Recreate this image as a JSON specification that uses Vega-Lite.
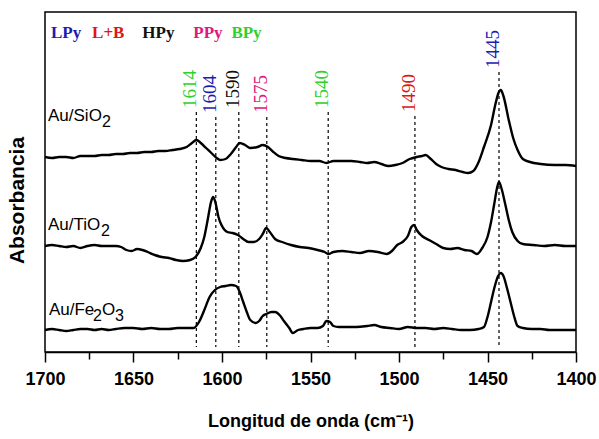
{
  "$schema": "https://vega.github.io/schema/vega-lite/v6.json",
  "width": 531,
  "height": 340,
  "autosize": {"type": "none"},
  "padding": {"left": 45, "top": 12, "right": 23, "bottom": 87},
  "background": "white",
  "config": {
    "view": {"stroke": "black", "strokeWidth": 1.5},
    "axis": {"grid": false}
  },
  "datasets": {
    "spectra": [
      {"sample": "Au/SiO2", "wn": 1700, "a": 195}, {"sample": "Au/SiO2", "wn": 1696, "a": 194}, {"sample": "Au/SiO2", "wn": 1692, "a": 195},
      {"sample": "Au/SiO2", "wn": 1688, "a": 195}, {"sample": "Au/SiO2", "wn": 1684, "a": 194}, {"sample": "Au/SiO2", "wn": 1680, "a": 196},
      {"sample": "Au/SiO2", "wn": 1676, "a": 196}, {"sample": "Au/SiO2", "wn": 1672, "a": 196}, {"sample": "Au/SiO2", "wn": 1668, "a": 197},
      {"sample": "Au/SiO2", "wn": 1664, "a": 197}, {"sample": "Au/SiO2", "wn": 1660, "a": 198}, {"sample": "Au/SiO2", "wn": 1656, "a": 198},
      {"sample": "Au/SiO2", "wn": 1652, "a": 199}, {"sample": "Au/SiO2", "wn": 1648, "a": 199}, {"sample": "Au/SiO2", "wn": 1644, "a": 200},
      {"sample": "Au/SiO2", "wn": 1640, "a": 200}, {"sample": "Au/SiO2", "wn": 1636, "a": 201}, {"sample": "Au/SiO2", "wn": 1632, "a": 201},
      {"sample": "Au/SiO2", "wn": 1628, "a": 202}, {"sample": "Au/SiO2", "wn": 1624, "a": 203}, {"sample": "Au/SiO2", "wn": 1620, "a": 205},
      {"sample": "Au/SiO2", "wn": 1617, "a": 209}, {"sample": "Au/SiO2", "wn": 1614.5, "a": 212}, {"sample": "Au/SiO2", "wn": 1612, "a": 209},
      {"sample": "Au/SiO2", "wn": 1609, "a": 204}, {"sample": "Au/SiO2", "wn": 1606, "a": 199}, {"sample": "Au/SiO2", "wn": 1603, "a": 194},
      {"sample": "Au/SiO2", "wn": 1601, "a": 192}, {"sample": "Au/SiO2", "wn": 1598, "a": 193}, {"sample": "Au/SiO2", "wn": 1595, "a": 198},
      {"sample": "Au/SiO2", "wn": 1592, "a": 205}, {"sample": "Au/SiO2", "wn": 1590, "a": 209}, {"sample": "Au/SiO2", "wn": 1587, "a": 207},
      {"sample": "Au/SiO2", "wn": 1584, "a": 204}, {"sample": "Au/SiO2", "wn": 1580, "a": 205}, {"sample": "Au/SiO2", "wn": 1577, "a": 207},
      {"sample": "Au/SiO2", "wn": 1574, "a": 205}, {"sample": "Au/SiO2", "wn": 1571, "a": 200}, {"sample": "Au/SiO2", "wn": 1568, "a": 196},
      {"sample": "Au/SiO2", "wn": 1564, "a": 194}, {"sample": "Au/SiO2", "wn": 1560, "a": 193}, {"sample": "Au/SiO2", "wn": 1555, "a": 192},
      {"sample": "Au/SiO2", "wn": 1550, "a": 191}, {"sample": "Au/SiO2", "wn": 1545, "a": 191}, {"sample": "Au/SiO2", "wn": 1541, "a": 189},
      {"sample": "Au/SiO2", "wn": 1537, "a": 191}, {"sample": "Au/SiO2", "wn": 1532, "a": 191}, {"sample": "Au/SiO2", "wn": 1527, "a": 191},
      {"sample": "Au/SiO2", "wn": 1522, "a": 190}, {"sample": "Au/SiO2", "wn": 1518, "a": 189}, {"sample": "Au/SiO2", "wn": 1514, "a": 190},
      {"sample": "Au/SiO2", "wn": 1510, "a": 188}, {"sample": "Au/SiO2", "wn": 1506, "a": 186}, {"sample": "Au/SiO2", "wn": 1502, "a": 187},
      {"sample": "Au/SiO2", "wn": 1498, "a": 189}, {"sample": "Au/SiO2", "wn": 1494, "a": 193}, {"sample": "Au/SiO2", "wn": 1490, "a": 195},
      {"sample": "Au/SiO2", "wn": 1487, "a": 196}, {"sample": "Au/SiO2", "wn": 1485, "a": 197}, {"sample": "Au/SiO2", "wn": 1482, "a": 193},
      {"sample": "Au/SiO2", "wn": 1479, "a": 188}, {"sample": "Au/SiO2", "wn": 1476, "a": 185}, {"sample": "Au/SiO2", "wn": 1472, "a": 183},
      {"sample": "Au/SiO2", "wn": 1468, "a": 182}, {"sample": "Au/SiO2", "wn": 1464, "a": 180}, {"sample": "Au/SiO2", "wn": 1461, "a": 179},
      {"sample": "Au/SiO2", "wn": 1458, "a": 181}, {"sample": "Au/SiO2", "wn": 1455, "a": 190}, {"sample": "Au/SiO2", "wn": 1452, "a": 205},
      {"sample": "Au/SiO2", "wn": 1448, "a": 227}, {"sample": "Au/SiO2", "wn": 1445.5, "a": 248}, {"sample": "Au/SiO2", "wn": 1443.8, "a": 259},
      {"sample": "Au/SiO2", "wn": 1442.5, "a": 262}, {"sample": "Au/SiO2", "wn": 1441, "a": 256}, {"sample": "Au/SiO2", "wn": 1438, "a": 232},
      {"sample": "Au/SiO2", "wn": 1435.5, "a": 214}, {"sample": "Au/SiO2", "wn": 1433, "a": 202}, {"sample": "Au/SiO2", "wn": 1430, "a": 193},
      {"sample": "Au/SiO2", "wn": 1426, "a": 190}, {"sample": "Au/SiO2", "wn": 1420, "a": 188}, {"sample": "Au/SiO2", "wn": 1412, "a": 187},
      {"sample": "Au/SiO2", "wn": 1406, "a": 187}, {"sample": "Au/SiO2", "wn": 1400, "a": 186},

      {"sample": "Au/TiO2", "wn": 1700, "a": 106}, {"sample": "Au/TiO2", "wn": 1696, "a": 107}, {"sample": "Au/TiO2", "wn": 1692, "a": 106},
      {"sample": "Au/TiO2", "wn": 1688, "a": 105}, {"sample": "Au/TiO2", "wn": 1684, "a": 106}, {"sample": "Au/TiO2", "wn": 1680, "a": 104},
      {"sample": "Au/TiO2", "wn": 1676, "a": 106}, {"sample": "Au/TiO2", "wn": 1672, "a": 107}, {"sample": "Au/TiO2", "wn": 1668, "a": 106},
      {"sample": "Au/TiO2", "wn": 1664, "a": 106}, {"sample": "Au/TiO2", "wn": 1660, "a": 106}, {"sample": "Au/TiO2", "wn": 1657, "a": 105},
      {"sample": "Au/TiO2", "wn": 1654, "a": 102}, {"sample": "Au/TiO2", "wn": 1651, "a": 101}, {"sample": "Au/TiO2", "wn": 1648, "a": 103},
      {"sample": "Au/TiO2", "wn": 1645, "a": 102}, {"sample": "Au/TiO2", "wn": 1642, "a": 100}, {"sample": "Au/TiO2", "wn": 1638, "a": 97},
      {"sample": "Au/TiO2", "wn": 1634, "a": 95}, {"sample": "Au/TiO2", "wn": 1630, "a": 94}, {"sample": "Au/TiO2", "wn": 1626, "a": 92},
      {"sample": "Au/TiO2", "wn": 1622, "a": 91}, {"sample": "Au/TiO2", "wn": 1618, "a": 92}, {"sample": "Au/TiO2", "wn": 1615, "a": 95},
      {"sample": "Au/TiO2", "wn": 1612, "a": 104}, {"sample": "Au/TiO2", "wn": 1610, "a": 115}, {"sample": "Au/TiO2", "wn": 1608, "a": 133},
      {"sample": "Au/TiO2", "wn": 1606.2, "a": 150}, {"sample": "Au/TiO2", "wn": 1605, "a": 155}, {"sample": "Au/TiO2", "wn": 1603.5, "a": 148},
      {"sample": "Au/TiO2", "wn": 1602, "a": 135}, {"sample": "Au/TiO2", "wn": 1600, "a": 126}, {"sample": "Au/TiO2", "wn": 1597, "a": 120},
      {"sample": "Au/TiO2", "wn": 1594, "a": 119}, {"sample": "Au/TiO2", "wn": 1591, "a": 117}, {"sample": "Au/TiO2", "wn": 1588, "a": 113},
      {"sample": "Au/TiO2", "wn": 1585, "a": 110}, {"sample": "Au/TiO2", "wn": 1582, "a": 110}, {"sample": "Au/TiO2", "wn": 1579, "a": 113},
      {"sample": "Au/TiO2", "wn": 1577, "a": 118}, {"sample": "Au/TiO2", "wn": 1575, "a": 124}, {"sample": "Au/TiO2", "wn": 1573, "a": 120},
      {"sample": "Au/TiO2", "wn": 1570, "a": 113}, {"sample": "Au/TiO2", "wn": 1566, "a": 110}, {"sample": "Au/TiO2", "wn": 1561, "a": 107},
      {"sample": "Au/TiO2", "wn": 1556, "a": 105}, {"sample": "Au/TiO2", "wn": 1551, "a": 104}, {"sample": "Au/TiO2", "wn": 1546, "a": 102},
      {"sample": "Au/TiO2", "wn": 1542, "a": 100}, {"sample": "Au/TiO2", "wn": 1540, "a": 98}, {"sample": "Au/TiO2", "wn": 1537, "a": 100},
      {"sample": "Au/TiO2", "wn": 1532, "a": 101}, {"sample": "Au/TiO2", "wn": 1527, "a": 100}, {"sample": "Au/TiO2", "wn": 1522, "a": 99},
      {"sample": "Au/TiO2", "wn": 1517, "a": 101}, {"sample": "Au/TiO2", "wn": 1512, "a": 100}, {"sample": "Au/TiO2", "wn": 1507, "a": 98},
      {"sample": "Au/TiO2", "wn": 1504, "a": 101}, {"sample": "Au/TiO2", "wn": 1501, "a": 107}, {"sample": "Au/TiO2", "wn": 1498, "a": 110},
      {"sample": "Au/TiO2", "wn": 1495, "a": 116}, {"sample": "Au/TiO2", "wn": 1493, "a": 125}, {"sample": "Au/TiO2", "wn": 1491.5, "a": 127},
      {"sample": "Au/TiO2", "wn": 1490, "a": 122}, {"sample": "Au/TiO2", "wn": 1487, "a": 116}, {"sample": "Au/TiO2", "wn": 1483, "a": 112},
      {"sample": "Au/TiO2", "wn": 1479, "a": 108}, {"sample": "Au/TiO2", "wn": 1475, "a": 104}, {"sample": "Au/TiO2", "wn": 1471, "a": 103},
      {"sample": "Au/TiO2", "wn": 1467, "a": 104}, {"sample": "Au/TiO2", "wn": 1463, "a": 102}, {"sample": "Au/TiO2", "wn": 1459, "a": 101},
      {"sample": "Au/TiO2", "wn": 1456, "a": 98}, {"sample": "Au/TiO2", "wn": 1453, "a": 104}, {"sample": "Au/TiO2", "wn": 1450, "a": 115},
      {"sample": "Au/TiO2", "wn": 1448, "a": 130}, {"sample": "Au/TiO2", "wn": 1446, "a": 150}, {"sample": "Au/TiO2", "wn": 1444.5, "a": 165},
      {"sample": "Au/TiO2", "wn": 1443.5, "a": 170}, {"sample": "Au/TiO2", "wn": 1442, "a": 163}, {"sample": "Au/TiO2", "wn": 1440, "a": 148},
      {"sample": "Au/TiO2", "wn": 1438, "a": 132}, {"sample": "Au/TiO2", "wn": 1436, "a": 120}, {"sample": "Au/TiO2", "wn": 1433, "a": 111},
      {"sample": "Au/TiO2", "wn": 1430, "a": 108}, {"sample": "Au/TiO2", "wn": 1424, "a": 107}, {"sample": "Au/TiO2", "wn": 1418, "a": 106},
      {"sample": "Au/TiO2", "wn": 1412, "a": 107}, {"sample": "Au/TiO2", "wn": 1406, "a": 106}, {"sample": "Au/TiO2", "wn": 1400, "a": 106},

      {"sample": "Au/Fe2O3", "wn": 1700, "a": 22}, {"sample": "Au/Fe2O3", "wn": 1696, "a": 23}, {"sample": "Au/Fe2O3", "wn": 1692, "a": 22},
      {"sample": "Au/Fe2O3", "wn": 1688, "a": 21}, {"sample": "Au/Fe2O3", "wn": 1684, "a": 22}, {"sample": "Au/Fe2O3", "wn": 1680, "a": 23},
      {"sample": "Au/Fe2O3", "wn": 1676, "a": 23}, {"sample": "Au/Fe2O3", "wn": 1672, "a": 22}, {"sample": "Au/Fe2O3", "wn": 1668, "a": 23},
      {"sample": "Au/Fe2O3", "wn": 1664, "a": 22}, {"sample": "Au/Fe2O3", "wn": 1660, "a": 23}, {"sample": "Au/Fe2O3", "wn": 1655, "a": 24},
      {"sample": "Au/Fe2O3", "wn": 1650, "a": 24}, {"sample": "Au/Fe2O3", "wn": 1645, "a": 23}, {"sample": "Au/Fe2O3", "wn": 1640, "a": 24},
      {"sample": "Au/Fe2O3", "wn": 1635, "a": 23}, {"sample": "Au/Fe2O3", "wn": 1630, "a": 23}, {"sample": "Au/Fe2O3", "wn": 1625, "a": 24},
      {"sample": "Au/Fe2O3", "wn": 1620, "a": 24}, {"sample": "Au/Fe2O3", "wn": 1616, "a": 24}, {"sample": "Au/Fe2O3", "wn": 1613, "a": 30},
      {"sample": "Au/Fe2O3", "wn": 1610, "a": 42}, {"sample": "Au/Fe2O3", "wn": 1607, "a": 55}, {"sample": "Au/Fe2O3", "wn": 1604, "a": 62},
      {"sample": "Au/Fe2O3", "wn": 1601, "a": 65}, {"sample": "Au/Fe2O3", "wn": 1598, "a": 66}, {"sample": "Au/Fe2O3", "wn": 1595, "a": 67},
      {"sample": "Au/Fe2O3", "wn": 1592, "a": 66}, {"sample": "Au/Fe2O3", "wn": 1590, "a": 60}, {"sample": "Au/Fe2O3", "wn": 1588, "a": 50},
      {"sample": "Au/Fe2O3", "wn": 1586, "a": 40}, {"sample": "Au/Fe2O3", "wn": 1584, "a": 32}, {"sample": "Au/Fe2O3", "wn": 1581, "a": 29},
      {"sample": "Au/Fe2O3", "wn": 1579, "a": 31}, {"sample": "Au/Fe2O3", "wn": 1577, "a": 36}, {"sample": "Au/Fe2O3", "wn": 1575, "a": 38},
      {"sample": "Au/Fe2O3", "wn": 1572, "a": 40}, {"sample": "Au/Fe2O3", "wn": 1570, "a": 40}, {"sample": "Au/Fe2O3", "wn": 1567, "a": 36},
      {"sample": "Au/Fe2O3", "wn": 1565, "a": 31}, {"sample": "Au/Fe2O3", "wn": 1562, "a": 24}, {"sample": "Au/Fe2O3", "wn": 1560, "a": 19},
      {"sample": "Au/Fe2O3", "wn": 1557, "a": 22}, {"sample": "Au/Fe2O3", "wn": 1554, "a": 23}, {"sample": "Au/Fe2O3", "wn": 1550, "a": 24},
      {"sample": "Au/Fe2O3", "wn": 1546, "a": 24}, {"sample": "Au/Fe2O3", "wn": 1543, "a": 26}, {"sample": "Au/Fe2O3", "wn": 1541, "a": 31},
      {"sample": "Au/Fe2O3", "wn": 1539, "a": 30}, {"sample": "Au/Fe2O3", "wn": 1537, "a": 26}, {"sample": "Au/Fe2O3", "wn": 1534, "a": 25},
      {"sample": "Au/Fe2O3", "wn": 1529, "a": 25}, {"sample": "Au/Fe2O3", "wn": 1524, "a": 25}, {"sample": "Au/Fe2O3", "wn": 1518, "a": 26},
      {"sample": "Au/Fe2O3", "wn": 1514, "a": 27}, {"sample": "Au/Fe2O3", "wn": 1510, "a": 25}, {"sample": "Au/Fe2O3", "wn": 1505, "a": 24},
      {"sample": "Au/Fe2O3", "wn": 1500, "a": 23}, {"sample": "Au/Fe2O3", "wn": 1495, "a": 25}, {"sample": "Au/Fe2O3", "wn": 1490, "a": 24},
      {"sample": "Au/Fe2O3", "wn": 1485, "a": 24}, {"sample": "Au/Fe2O3", "wn": 1480, "a": 23}, {"sample": "Au/Fe2O3", "wn": 1475, "a": 24},
      {"sample": "Au/Fe2O3", "wn": 1470, "a": 23}, {"sample": "Au/Fe2O3", "wn": 1465, "a": 22}, {"sample": "Au/Fe2O3", "wn": 1460, "a": 22},
      {"sample": "Au/Fe2O3", "wn": 1455, "a": 23}, {"sample": "Au/Fe2O3", "wn": 1452, "a": 25}, {"sample": "Au/Fe2O3", "wn": 1450, "a": 35},
      {"sample": "Au/Fe2O3", "wn": 1448, "a": 50}, {"sample": "Au/Fe2O3", "wn": 1446, "a": 65}, {"sample": "Au/Fe2O3", "wn": 1444, "a": 76},
      {"sample": "Au/Fe2O3", "wn": 1442.5, "a": 79}, {"sample": "Au/Fe2O3", "wn": 1441, "a": 76}, {"sample": "Au/Fe2O3", "wn": 1439, "a": 64},
      {"sample": "Au/Fe2O3", "wn": 1437, "a": 50}, {"sample": "Au/Fe2O3", "wn": 1435, "a": 36}, {"sample": "Au/Fe2O3", "wn": 1433, "a": 26},
      {"sample": "Au/Fe2O3", "wn": 1430, "a": 24}, {"sample": "Au/Fe2O3", "wn": 1425, "a": 23}, {"sample": "Au/Fe2O3", "wn": 1420, "a": 23},
      {"sample": "Au/Fe2O3", "wn": 1415, "a": 22}, {"sample": "Au/Fe2O3", "wn": 1410, "a": 22}, {"sample": "Au/Fe2O3", "wn": 1405, "a": 22},
      {"sample": "Au/Fe2O3", "wn": 1400, "a": 22}
    ],
    "bands": [
      {"wn": 1614.5, "label": "1614", "color": "#2fd02f", "top": 240, "lab": 244, "bottom": 5},
      {"wn": 1603.5, "label": "1604", "color": "#1c1cb0", "top": 235, "lab": 239, "bottom": 5},
      {"wn": 1590.5, "label": "1590", "color": "#111111", "top": 240, "lab": 244, "bottom": 5},
      {"wn": 1574.7, "label": "1575", "color": "#e0187c", "top": 235, "lab": 239, "bottom": 5},
      {"wn": 1540, "label": "1540", "color": "#2fd02f", "top": 240, "lab": 244, "bottom": 5},
      {"wn": 1491, "label": "1490", "color": "#dd1616", "top": 236, "lab": 240, "bottom": 5},
      {"wn": 1443.5, "label": "1445", "color": "#1c1cb0", "top": 280, "lab": 284, "bottom": 5}
    ],
    "legend": [
      {"t": "LPy", "color": "#1c1cb0", "wn": 1696.6},
      {"t": "L+B", "color": "#dd1616", "wn": 1673.4},
      {"t": "HPy", "color": "#111111", "wn": 1645},
      {"t": "PPy", "color": "#e0187c", "wn": 1616.2},
      {"t": "BPy", "color": "#2fd02f", "wn": 1594.7}
    ]
  },
  "layer": [
    {
      "data": {"name": "spectra"},
      "mark": {"type": "line", "color": "black", "strokeWidth": 2.4, "interpolate": "monotone"},
      "encoding": {
        "x": {
          "field": "wn", "type": "quantitative",
          "scale": {"domain": [1400, 1700], "reverse": true, "nice": false, "zero": false},
          "axis": {
            "title": "Longitud de onda (cm⁻¹)",
            "values": [1400, 1425, 1450, 1475, 1500, 1525, 1550, 1575, 1600, 1625, 1650, 1675, 1700],
            "labelExpr": "datum.value % 50 === 0 ? datum.label : ''",
            "format": "d",
            "domainColor": "black", "domainWidth": 1.5,
            "tickColor": "black", "tickWidth": 1.5,
            "tickSize": {"condition": {"test": "datum.value % 50 === 0", "value": 10}, "value": 7},
            "labelFont": "Liberation Sans", "labelFontWeight": "bold", "labelFontSize": 18,
            "labelColor": "black", "labelPadding": 8, "labelFlush": false, "labelOverlap": false,
            "titleFont": "Liberation Sans", "titleFontWeight": "bold", "titleFontSize": 18,
            "titleColor": "black", "titlePadding": 24
          }
        },
        "y": {
          "field": "a", "type": "quantitative",
          "scale": {"domain": [0, 340], "nice": false, "zero": false},
          "axis": {
            "title": "Absorbancia", "labels": false, "ticks": false, "domain": false,
            "titleFont": "Liberation Sans", "titleFontWeight": "bold", "titleFontSize": 21,
            "titleColor": "black", "titlePadding": 18, "titleY": 188
          }
        },
        "detail": {"field": "sample", "type": "nominal"}
      }
    },
    {
      "data": {"name": "bands"},
      "mark": {"type": "rule", "color": "black", "strokeWidth": 1.2, "strokeDash": [3, 3]},
      "encoding": {
        "x": {"field": "wn", "type": "quantitative"},
        "y": {"field": "top", "type": "quantitative"},
        "y2": {"field": "bottom"}
      }
    },
    {
      "data": {"name": "bands"},
      "mark": {"type": "text", "angle": 270, "align": "left", "baseline": "alphabetic", "font": "Liberation Serif", "fontSize": 19},
      "encoding": {
        "x": {"field": "wn", "type": "quantitative"},
        "y": {"field": "lab", "type": "quantitative"},
        "text": {"field": "label"},
        "color": {"field": "color", "type": "nominal", "scale": null}
      }
    },
    {
      "data": {"name": "legend"},
      "mark": {"type": "text", "align": "left", "baseline": "alphabetic", "font": "Liberation Serif", "fontWeight": "bold", "fontSize": 17},
      "encoding": {
        "x": {"field": "wn", "type": "quantitative"},
        "y": {"datum": 314},
        "text": {"field": "t"},
        "color": {"field": "color", "type": "nominal", "scale": null}
      }
    },
    {
      "data": {"values": [{"t": "Au/SiO", "wn": 1698.3, "a": 231}, {"t": "Au/TiO", "wn": 1698.3, "a": 122}, {"t": "Au/Fe", "wn": 1697.8, "a": 37}]},
      "mark": {"type": "text", "align": "left", "baseline": "alphabetic", "font": "Liberation Sans", "fontSize": 17, "color": "black"},
      "encoding": {"x": {"field": "wn", "type": "quantitative"}, "y": {"field": "a", "type": "quantitative"}, "text": {"field": "t"}}
    },
    {
      "data": {"values": [{"t": "2", "wn": 1698.3, "a": 231}]},
      "mark": {"type": "text", "align": "left", "baseline": "alphabetic", "font": "Liberation Sans", "fontSize": 16, "color": "black", "dx": 54, "dy": 6},
      "encoding": {"x": {"field": "wn", "type": "quantitative"}, "y": {"field": "a", "type": "quantitative"}, "text": {"field": "t"}}
    },
    {
      "data": {"values": [{"t": "2", "wn": 1698.3, "a": 122}]},
      "mark": {"type": "text", "align": "left", "baseline": "alphabetic", "font": "Liberation Sans", "fontSize": 16, "color": "black", "dx": 53, "dy": 6},
      "encoding": {"x": {"field": "wn", "type": "quantitative"}, "y": {"field": "a", "type": "quantitative"}, "text": {"field": "t"}}
    },
    {
      "data": {"values": [{"t": "2", "wn": 1697.8, "a": 37}]},
      "mark": {"type": "text", "align": "left", "baseline": "alphabetic", "font": "Liberation Sans", "fontSize": 16, "color": "black", "dx": 44, "dy": 6},
      "encoding": {"x": {"field": "wn", "type": "quantitative"}, "y": {"field": "a", "type": "quantitative"}, "text": {"field": "t"}}
    },
    {
      "data": {"values": [{"t": "O", "wn": 1697.8, "a": 37}]},
      "mark": {"type": "text", "align": "left", "baseline": "alphabetic", "font": "Liberation Sans", "fontSize": 17, "color": "black", "dx": 53},
      "encoding": {"x": {"field": "wn", "type": "quantitative"}, "y": {"field": "a", "type": "quantitative"}, "text": {"field": "t"}}
    },
    {
      "data": {"values": [{"t": "3", "wn": 1697.8, "a": 37}]},
      "mark": {"type": "text", "align": "left", "baseline": "alphabetic", "font": "Liberation Sans", "fontSize": 16, "color": "black", "dx": 66, "dy": 6},
      "encoding": {"x": {"field": "wn", "type": "quantitative"}, "y": {"field": "a", "type": "quantitative"}, "text": {"field": "t"}}
    }
  ]
}
